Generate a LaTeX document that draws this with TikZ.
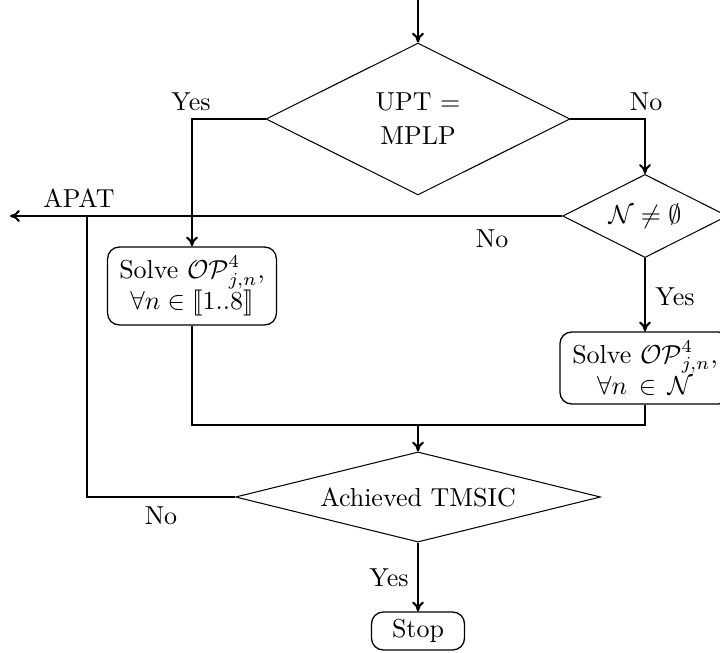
\documentclass[tikz,border=0pt]{standalone}
\usepackage{amsmath,amssymb}
\usepackage{stmaryrd}
\usetikzlibrary{shapes.geometric,arrows.meta}
\tikzset{
  conn/.style={line width=0.8pt},
  arr/.style={conn,-{To[length=3.8pt,width=4.6pt]}},
  decision/.style={draw,line width=0.4pt,diamond,inner sep=0pt,align=center},
  procbox/.style={draw,line width=0.5pt,rectangle,rounded corners=4.5pt,inner sep=1pt,align=center},
  lbl/.style={inner sep=0pt}
}
\begin{document}
\begin{tikzpicture}[x=0.385pt,y=-0.385pt]
\useasboundingbox (0,0) rectangle (720,653);
% nodes
\node[decision,aspect=2,minimum width=117pt,minimum height=58.5pt] (d1) at (418,119) {UPT $=$\\[1pt]MPLP};
\node[decision,aspect=2,minimum width=63.5pt,minimum height=32pt] (d2) at (645,216) {$\mathcal{N}\neq\emptyset$};
\node[procbox,minimum width=65pt,minimum height=30pt] (b1) at (192,286) {Solve $\mathcal{OP}^4_{j,n}$,\\$\forall n\in\llbracket 1..8\rrbracket$};
\node[procbox,minimum width=65.5pt,minimum height=27.7pt] (b2) at (645,368) {Solve $\mathcal{OP}^4_{j,n}$,\\$\forall n\,\in\,\mathcal{N}$};
\node[decision,aspect=4,minimum width=140.5pt,minimum height=34.7pt] (d3) at (418,497) {Achieved TMSIC};
\node[procbox,minimum width=35.8pt,minimum height=14.6pt] (stop) at (418,631) {Stop};
% labels
\node[lbl] (lyes1) at (191,102) {Yes};
\node[lbl] (lno1) at (646,102) {No};
\node[lbl] (lapat) at (79,198) {APAT};
\node[lbl] (lno2) at (492,239) {No};
\node[lbl] (lyes2) at (675,297) {Yes};
\node[lbl] (lno3) at (161,516) {No};
\node[lbl] (lyes3) at (389,578) {Yes};
% coordinates
\coordinate (start) at (418,0);
\coordinate (apatend) at (10,216);
\coordinate (j1) at (87,216);
\coordinate (m) at (418,425);
% connectors
\draw[arr] (start) -- (d1.north);
\draw[arr] (d1.west) -| (b1.north);
\draw[arr] (d1.east) -| (d2.north);
\draw[arr] (d2.west) -- (apatend);
\draw[conn] (j1) |- (d3.west);
\draw[arr] (d2.south) -- (b2.north);
\draw[conn] (b1.south) -- (b1.south |- m) -- (b2.south |- m) -- (b2.south);
\draw[arr] (m) -- (d3.north);
\draw[arr] (d3.south) -- (stop.north);
\end{tikzpicture}
\end{document}
